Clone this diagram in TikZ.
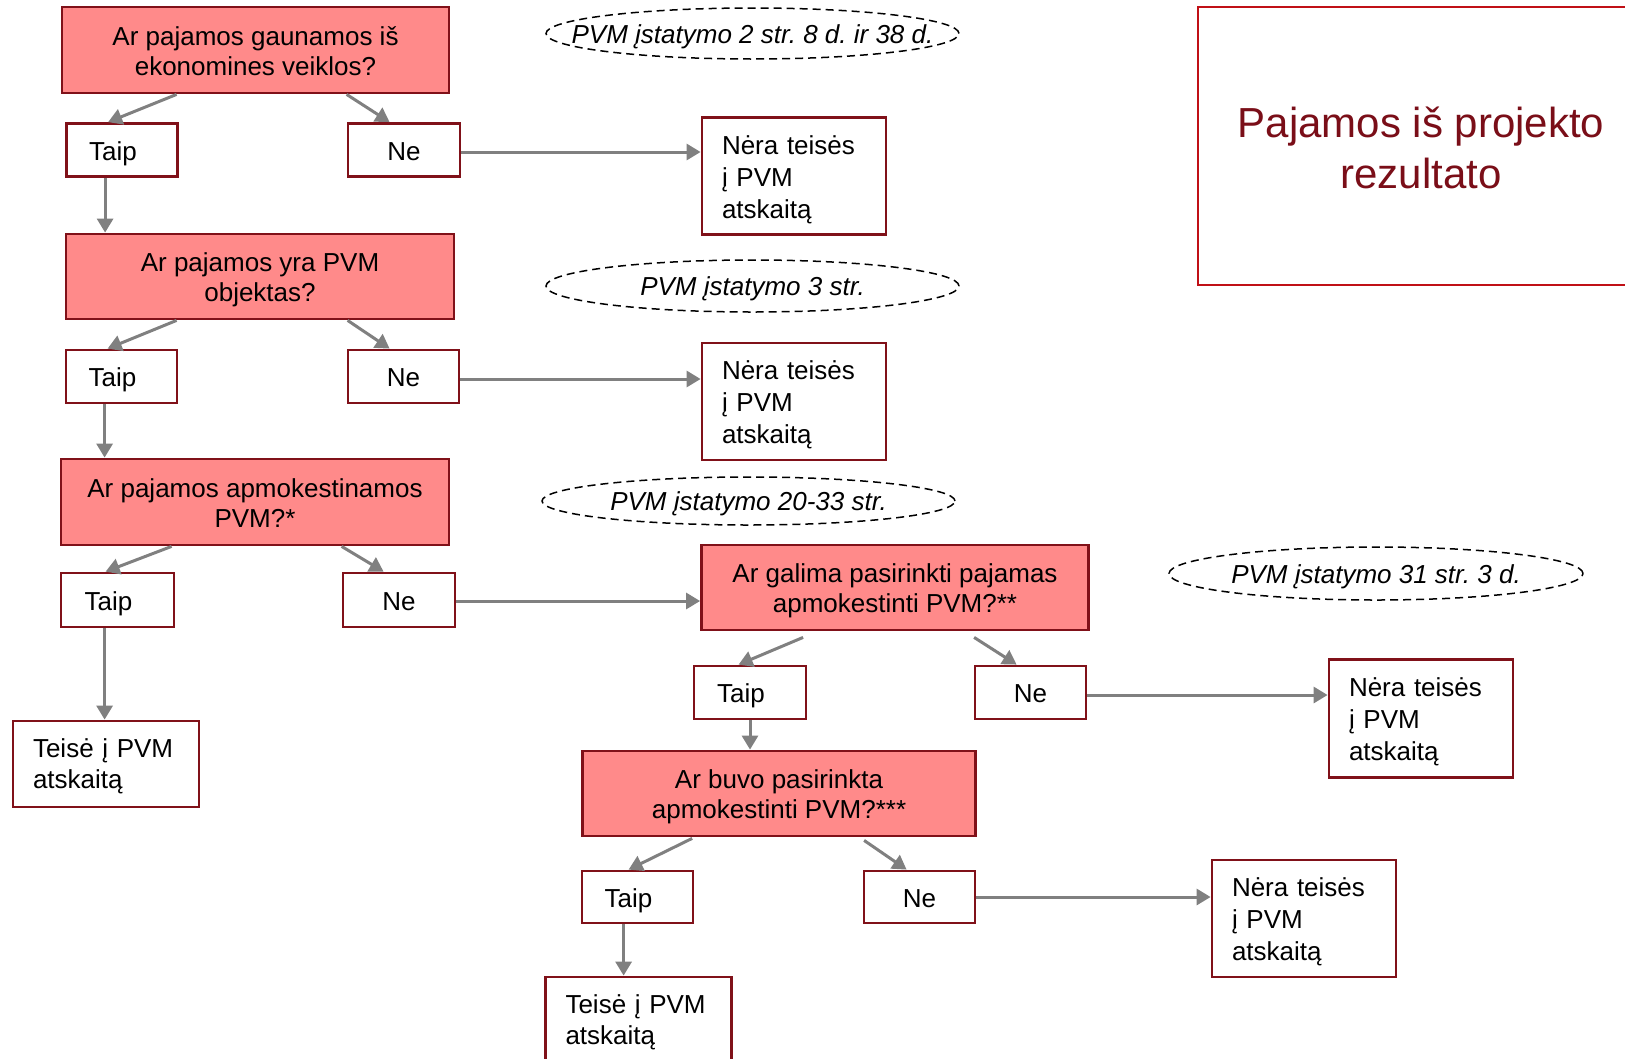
\documentclass[tikz,border=0pt]{standalone}
\usepackage{fontspec}
\setmainfont{Liberation Sans}
\frenchspacing
\usetikzlibrary{arrows.meta,calc}

\definecolor{qfill}{RGB}{255,138,138}
\definecolor{edge}{RGB}{128,17,25}
\definecolor{linkgray}{RGB}{128,128,128}
\definecolor{titleedge}{RGB}{192,16,22}
\definecolor{titletext}{RGB}{122,14,24}

\begin{document}
\begin{tikzpicture}[x=1pt,y=-1pt,
  every node/.style={font=\fontsize{26}{30}\selectfont},
  question/.style={draw=edge, line width=2.8pt, fill=qfill, minimum width=387pt,
    minimum height=85pt, align=center, inner sep=0pt, text height=55pt, text depth=5pt},
  yesbox/.style={draw=edge, line width=2.8pt, fill=white, minimum width=111pt,
    minimum height=53pt, inner sep=0pt, text height=20pt, text depth=0pt},
  nobox/.style={yesbox},
  verdict/.style={draw=edge, line width=2.8pt, fill=white, minimum height=117pt,
    text width=144pt, inner xsep=20pt, inner ysep=0pt, align=left,
    font=\fontsize{26}{32}\selectfont, text height=26pt, text depth=70pt},
  grant/.style={draw=edge, line width=2.8pt, fill=white, minimum height=86pt,
    text width=146pt, inner xsep=20pt, inner ysep=0pt, align=left,
    font=\fontsize{26}{31}\selectfont, text height=23pt, text depth=37pt},
  lawref/.style={inner sep=0pt, text height=19pt, text depth=0pt,
    font=\fontsize{26}{30}\selectfont\itshape},
  refring/.style={draw=black, line width=1.5pt, dash pattern=on 8pt off 5pt},
  link/.style={draw=linkgray, line width=3pt, -{Triangle[length=14pt,width=16pt]}}
]
\useasboundingbox (0,0) rectangle (1625,1058);
\clip (0,0) rectangle (1625,1058);

% title
\node (title) [draw=titleedge, line width=2.5pt, minimum width=446pt, minimum height=278pt,
  inner sep=0pt, align=center, text=titletext, font=\fontsize{42}{51}\selectfont,
  text height=90pt, text depth=6pt] at (1421,146)
  {Pajamos iš projekto\\rezultato};

% legal references in dashed ellipses
\node (e1) [lawref] at (752.5,33.5) {PVM įstatymo 2 str. 8 d. ir 38 d.};
\draw[refring] (e1.center) ellipse [x radius=206.5pt, y radius=25.5pt];
\node (e2) [lawref] at (752.5,286) {PVM įstatymo 3 str.};
\draw[refring] (e2.center) ellipse [x radius=206.5pt, y radius=26pt];
\node (e3) [lawref] at (748.5,501) {PVM įstatymo 20-33 str.};
\draw[refring] (e3.center) ellipse [x radius=206.5pt, y radius=24pt];
\node (e4) [lawref] at (1376,573.5) {PVM įstatymo 31 str. 3 d.};
\draw[refring] (e4.center) ellipse [x radius=207pt, y radius=26.5pt];

% first question
\node (b1) [question, minimum height=86pt] at (255.5,50) {Ar pajamos gaunamos iš\\ekonomines veiklos?};
\node (t1) [yesbox] at (122,150) {Taip\hspace*{18pt}};
\node (n1) [nobox, minimum width=112pt] at (404,150) {Ne};
\node (r1) [verdict] at (794,176) {Nėra teisės\\į PVM\\atskaitą};

% second question
\node (b2) [question, minimum width=388pt] at (260,276.5) {Ar pajamos yra PVM\\objektas?};
\node (t2) [yesbox] at (121.5,376.5) {Taip\hspace*{18pt}};
\node (n2) [nobox] at (403.5,376.5) {Ne};
\node (r2) [verdict] at (794,401.5) {Nėra teisės\\į PVM\\atskaitą};

% third question
\node (b3) [question, minimum width=388pt, minimum height=86pt] at (255,502) {Ar pajamos apmokestinamos\\PVM?*};
\node (t3) [yesbox, minimum width=113pt, minimum height=54pt] at (117.5,600) {Taip\hspace*{18pt}};
\node (n3) [nobox, minimum width=112pt, minimum height=54pt] at (399,600) {Ne};
\node (v1) [grant] at (106,764) {Teisė į PVM\\atskaitą};

% fourth question
\node (b4) [question] at (895,587.5) {Ar galima pasirinkti pajamas\\apmokestinti PVM?**};
\node (t4) [yesbox, minimum width=112pt] at (750,692.5) {Taip\hspace*{18pt}};
\node (n4) [nobox] at (1030.5,692.5) {Ne};
\node (r3) [verdict, minimum height=118pt] at (1421,718.5) {Nėra teisės\\į PVM\\atskaitą};

% fifth question
\node (b5) [question, minimum width=393pt] at (779,793.5) {Ar buvo pasirinkta\\apmokestinti PVM?***};
\node (t5) [yesbox, minimum height=52pt] at (637.5,897) {Taip\hspace*{18pt}};
\node (n5) [nobox, minimum height=52pt] at (919.5,897) {Ne};
\node (r4) [verdict] at (1304,918.5) {Nėra teisės\\į PVM\\atskaitą};
\node (v2) [grant] at (638.5,1020) {Teisė į PVM\\atskaitą};

% points where the vertical connectors leave the "Taip" boxes
\coordinate (d1) at ($(t1.south west)+(40,0)$);
\coordinate (d2) at ($(t2.south west)+(40,0)$);
\coordinate (d3) at ($(t3.south west)+(45,0)$);
\coordinate (d5) at ($(t5.south west)+(43,0)$);

% connectors
\draw[link] ($(b1.south west)+(116,0)$) -- ($(t1.north west)+(43,0)$);
\draw[link] ($(b1.south west)+(286,0)$) -- ($(n1.north west)+(43,0)$);
\draw[link] (d1) -- (d1 |- b2.north);
\draw[link] (n1.east |- 0,152) -- (r1.west |- 0,152);

\draw[link] ($(b2.south west)+(112,0)$) -- ($(t2.north west)+(43,0)$);
\draw[link] ($(b2.south west)+(283,0)$) -- ($(n2.north west)+(43,0)$);
\draw[link] (d2) -- (d2 |- b3.north);
\draw[link] (n2.east |- 0,379) -- (r2.west |- 0,379);

\draw[link] ($(b3.south west)+(112,0)$) -- ($(t3.north west)+(46,0)$);
\draw[link] ($(b3.south west)+(282,0)$) -- ($(n3.north west)+(42,0)$);
\draw[link] (d3) -- (d3 |- v1.north);
\draw[link] (n3.east |- 0,601) -- (b4.west |- 0,601);

\draw[link] ($(b4.south west)+(103,6)$) -- ($(t4.north west)+(46,0)$);
\draw[link] ($(b4.south west)+(274,6)$) -- ($(n4.north west)+(43,0)$);
\draw[link] (t4.south) -- (t4.south |- b5.north);
\draw[link] (n4.east |- 0,695) -- (r3.west |- 0,695);

\draw[link] ($(b5.south west)+(111,1)$) -- ($(t5.north west)+(48,0)$);
\draw[link] ($(b5.south west)+(283,3)$) -- ($(n5.north west)+(44,0)$);
\draw[link] (d5) -- (d5 |- v2.north);
\draw[link] (n5.east) -- (n5.east -| r4.west);
\end{tikzpicture}
\end{document}
